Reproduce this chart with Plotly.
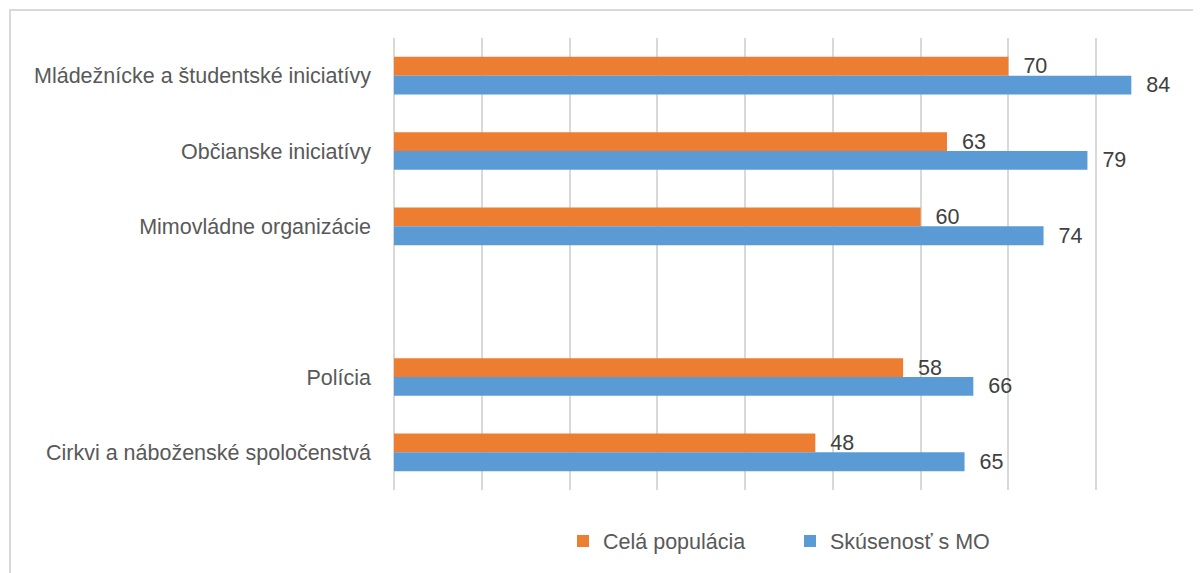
import plotly.graph_objects as go

categories = ["Mládežnícke a študentské iniciatívy", "Občianske iniciatívy", "Mimovládne organizácie",
              " ", "Polícia", "Cirkvi a náboženské spoločenstvá"]
cela_populacia = [70, 63, 60, None, 58, 48]
skusenost_mo = [84, 79, 74, None, 66, 65]
series_names = ["Celá populácia", "Skúsenosť s MO"]
colors = ["#ED7D31", "#5B9BD5"]

FONT = "Liberation Sans"
TXT = "#595959"
FS = 21.5

W, H = 1201, 573
L, R, T, B = 386, 25, 30, 91
PW, PH = W - L - R, H - T - B

fig = go.Figure()
for name, vals, col in [(series_names[0], cela_populacia, colors[0]),
                        (series_names[1], skusenost_mo, colors[1])]:
    fig.add_trace(go.Bar(
        y=categories, x=vals, name=name, orientation="h",
        marker=dict(color=col, line=dict(width=0)),
        text=[("" if v is None else f"  {v}") for v in vals],
        textposition="outside", cliponaxis=False, constraintext="none",
        textfont=dict(size=FS, color="#404040", family=FONT),
    ))

fig.update_layout(
    width=W, height=H,
    margin=dict(l=L, r=R, t=T, b=B, autoexpand=False),
    paper_bgcolor="white", plot_bgcolor="white",
    barmode="group", bargap=0.5, bargroupgap=0,
    font=dict(family=FONT, size=FS, color=TXT),
    showlegend=True,
    legend=dict(orientation="h", x=(563 - 394) / PW, xanchor="left",
                y=-(541 - 490) / PH, yanchor="middle",
                font=dict(size=FS, color=TXT, family=FONT), traceorder="normal",
                itemwidth=30, entrywidth=182, entrywidthmode="pixels"),
    xaxis=dict(range=[0, 90], dtick=10, showgrid=True, gridcolor="#D9D9D9", gridwidth=1.5,
               showticklabels=False, zeroline=True, zerolinecolor="#D9D9D9", zerolinewidth=1.5,
               showline=False, fixedrange=True),
    yaxis=dict(type="category", categoryorder="array", categoryarray=categories,
               autorange="reversed", showgrid=False, ticks="", ticklabelstandoff=22,
               tickfont=dict(size=FS, color=TXT, family=FONT)),
    shapes=[dict(type="rect", xref="paper", yref="paper",
                 x0=(10 - 394) / PW, x1=1.2, y0=-0.5, y1=1 + (38 - 10) / PH,
                 line=dict(color="#D9D9D9", width=2), fillcolor="rgba(0,0,0,0)", layer="below")],
)

fig.write_html("out.html")
